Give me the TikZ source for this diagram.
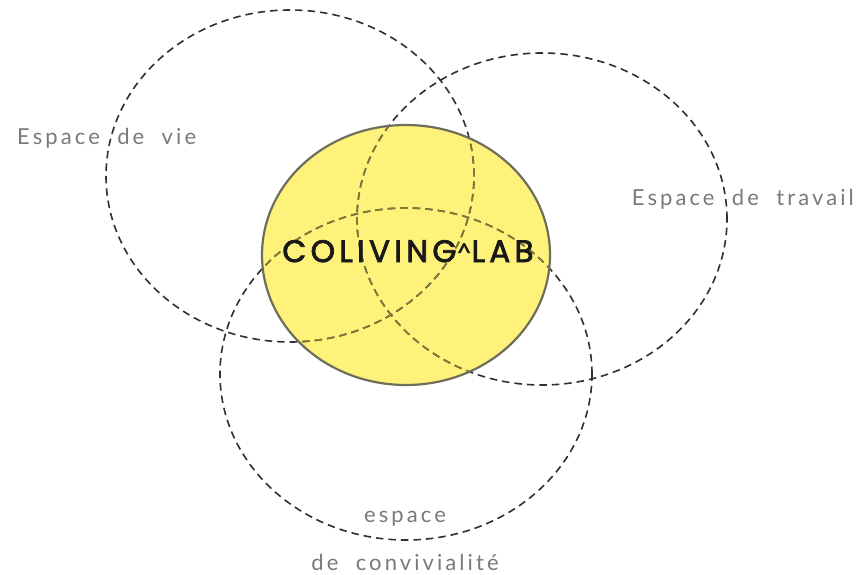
\documentclass[tikz,border=0pt]{standalone}
\usepackage{fontspec}
\newfontfamily\lblfont[LetterSpace=14,WordSpace=2]{Lato}
\newfontfamily\labfont[LetterSpace=14,FakeBold=2.5]{Poppins}
\newfontfamily\caretfont[FakeBold=1.5]{Lato}
\definecolor{labyellow}{HTML}{FFF27A}
\definecolor{labborder}{HTML}{6E6E5A}
\definecolor{zonegray}{HTML}{303030}
\definecolor{zoneolive}{HTML}{7E7C38}
\definecolor{lblgray}{HTML}{7A7A7A}
\tikzset{
  zone/.style={draw=zonegray, line width=1.6pt, dash pattern=on 7.5pt off 5pt},
  zonein/.style={draw=zoneolive, line width=1.6pt, dash pattern=on 7.5pt off 5pt},
  lbl/.style={font=\lblfont\fontsize{22}{25}\selectfont, text=lblgray, inner sep=0pt},
  title/.style={font=\labfont\fontsize{31}{34}\selectfont, text=black!90, inner sep=0pt}
}
\begin{document}
\begin{tikzpicture}[x=1pt,y=-1pt]
\useasboundingbox (0,0) rectangle (859,575);
\fill[white] (0,0) rectangle (859,575);
\coordinate (cvie) at (290,176);
\coordinate (ctrav) at (542,219);
\coordinate (cconv) at (406,374);
\coordinate (clab) at (406,255);
\fill[labyellow] (clab) ellipse [x radius=144pt, y radius=130pt];
\draw[zone] (cvie) ellipse [x radius=184pt, y radius=166pt];
\draw[zone] (ctrav) ellipse [x radius=185pt, y radius=166pt];
\draw[zone] (cconv) ellipse [x radius=186pt, y radius=166pt];
\begin{scope}
\clip (clab) ellipse [x radius=144pt, y radius=130pt];
\draw[zonein] (cvie) ellipse [x radius=184pt, y radius=166pt];
\draw[zonein] (ctrav) ellipse [x radius=185pt, y radius=166pt];
\draw[zonein] (cconv) ellipse [x radius=186pt, y radius=166pt];
\end{scope}
\draw[labborder, line width=2.2pt] (clab) ellipse [x radius=144pt, y radius=130pt];
\node[lbl, anchor=base west] (tvie) at (17,144) {Espace de vie};
\node[lbl, anchor=base east] (ttrav) at (854,205) {Espace de travail};
\node[lbl, anchor=base] (tesp) at (405,522) {espace};
\node[lbl, anchor=base] (tconv) at (405,570) {de convivialité};
\node[title, anchor=base] (tlab) at (408,262) {COLIVING{\caretfont\fontsize{26}{26}\selectfont\textasciicircum}LAB};
\end{tikzpicture}
\end{document}
